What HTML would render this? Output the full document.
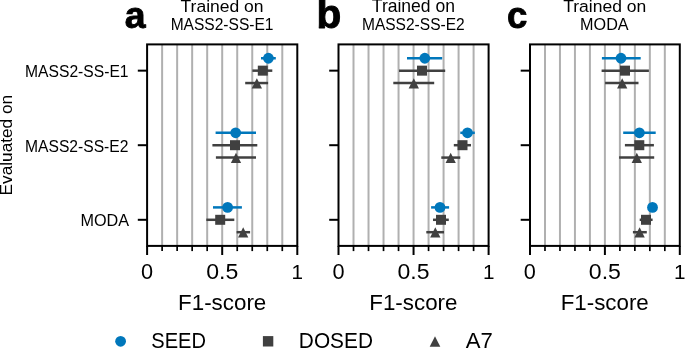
<!DOCTYPE html>
<html><head><meta charset="utf-8"><title>F1-score chart</title>
<style>
html,body{margin:0;padding:0;background:#fff;width:685px;height:349px;overflow:hidden}
svg{display:block;will-change:transform}
text{font-family:"Liberation Sans", sans-serif;fill:#000}
</style></head><body>
<svg width="685" height="349" viewBox="0 0 685 349">
<rect width="685" height="349" fill="#fff"/>
<line x1="162.12" y1="44.4" x2="162.12" y2="245.9" stroke="#b0b0b0" stroke-width="2"/>
<line x1="177.14" y1="44.4" x2="177.14" y2="245.9" stroke="#b0b0b0" stroke-width="2"/>
<line x1="192.16" y1="44.4" x2="192.16" y2="245.9" stroke="#b0b0b0" stroke-width="2"/>
<line x1="207.18" y1="44.4" x2="207.18" y2="245.9" stroke="#b0b0b0" stroke-width="2"/>
<line x1="222.2" y1="44.4" x2="222.2" y2="245.9" stroke="#b0b0b0" stroke-width="2"/>
<line x1="237.22" y1="44.4" x2="237.22" y2="245.9" stroke="#b0b0b0" stroke-width="2"/>
<line x1="252.24" y1="44.4" x2="252.24" y2="245.9" stroke="#b0b0b0" stroke-width="2"/>
<line x1="267.26" y1="44.4" x2="267.26" y2="245.9" stroke="#b0b0b0" stroke-width="2"/>
<line x1="282.28" y1="44.4" x2="282.28" y2="245.9" stroke="#b0b0b0" stroke-width="2"/>
<line x1="261" y1="58.25" x2="275.8" y2="58.25" stroke="#0077bb" stroke-width="2.5"/>
<circle cx="268.4" cy="58.25" r="5.4" fill="#0077bb"/>
<line x1="252.4" y1="70.65" x2="272.3" y2="70.65" stroke="#404040" stroke-width="2.5"/>
<rect x="257.8" y="65.65" width="10.0" height="10.0" fill="#404040"/>
<line x1="245.2" y1="83.05" x2="268.1" y2="83.05" stroke="#404040" stroke-width="2.5"/>
<path d="M256.85 78.2L262 88.4L251.7 88.4Z" fill="#404040"/>
<line x1="215.6" y1="132.8" x2="256" y2="132.8" stroke="#0077bb" stroke-width="2.5"/>
<circle cx="235.7" cy="132.8" r="5.4" fill="#0077bb"/>
<line x1="212.4" y1="145.2" x2="257.3" y2="145.2" stroke="#404040" stroke-width="2.5"/>
<rect x="230" y="140.2" width="10.0" height="10.0" fill="#404040"/>
<line x1="215.9" y1="157.6" x2="256" y2="157.6" stroke="#404040" stroke-width="2.5"/>
<path d="M236 152.75L241.15 162.95L230.85 162.95Z" fill="#404040"/>
<line x1="213" y1="207.4" x2="241.9" y2="207.4" stroke="#0077bb" stroke-width="2.5"/>
<circle cx="227.6" cy="207.4" r="5.4" fill="#0077bb"/>
<line x1="206.3" y1="219.8" x2="234.3" y2="219.8" stroke="#404040" stroke-width="2.5"/>
<rect x="215.2" y="214.8" width="10.0" height="10.0" fill="#404040"/>
<line x1="236.6" y1="232.2" x2="250.1" y2="232.2" stroke="#404040" stroke-width="2.5"/>
<path d="M243.2 227.35L248.35 237.55L238.05 237.55Z" fill="#404040"/>
<rect x="147.1" y="44.4" width="150.2" height="201.5" fill="none" stroke="#000" stroke-width="2"/>
<line x1="147.1" y1="245.9" x2="147.1" y2="255" stroke="#000" stroke-width="2"/>
<line x1="222.2" y1="245.9" x2="222.2" y2="255" stroke="#000" stroke-width="2"/>
<line x1="297.3" y1="245.9" x2="297.3" y2="255" stroke="#000" stroke-width="2"/>
<line x1="162.12" y1="245.9" x2="162.12" y2="251.1" stroke="#000" stroke-width="1.7"/>
<line x1="177.14" y1="245.9" x2="177.14" y2="251.1" stroke="#000" stroke-width="1.7"/>
<line x1="192.16" y1="245.9" x2="192.16" y2="251.1" stroke="#000" stroke-width="1.7"/>
<line x1="207.18" y1="245.9" x2="207.18" y2="251.1" stroke="#000" stroke-width="1.7"/>
<line x1="237.22" y1="245.9" x2="237.22" y2="251.1" stroke="#000" stroke-width="1.7"/>
<line x1="252.24" y1="245.9" x2="252.24" y2="251.1" stroke="#000" stroke-width="1.7"/>
<line x1="267.26" y1="245.9" x2="267.26" y2="251.1" stroke="#000" stroke-width="1.7"/>
<line x1="282.28" y1="245.9" x2="282.28" y2="251.1" stroke="#000" stroke-width="1.7"/>
<line x1="137.8" y1="70.65" x2="147.1" y2="70.65" stroke="#000" stroke-width="2"/>
<line x1="137.8" y1="145.2" x2="147.1" y2="145.2" stroke="#000" stroke-width="2"/>
<line x1="137.8" y1="219.8" x2="147.1" y2="219.8" stroke="#000" stroke-width="2"/>
<line x1="353.51" y1="44.4" x2="353.51" y2="245.9" stroke="#b0b0b0" stroke-width="2"/>
<line x1="368.52" y1="44.4" x2="368.52" y2="245.9" stroke="#b0b0b0" stroke-width="2"/>
<line x1="383.53" y1="44.4" x2="383.53" y2="245.9" stroke="#b0b0b0" stroke-width="2"/>
<line x1="398.54" y1="44.4" x2="398.54" y2="245.9" stroke="#b0b0b0" stroke-width="2"/>
<line x1="413.55" y1="44.4" x2="413.55" y2="245.9" stroke="#b0b0b0" stroke-width="2"/>
<line x1="428.56" y1="44.4" x2="428.56" y2="245.9" stroke="#b0b0b0" stroke-width="2"/>
<line x1="443.57" y1="44.4" x2="443.57" y2="245.9" stroke="#b0b0b0" stroke-width="2"/>
<line x1="458.58" y1="44.4" x2="458.58" y2="245.9" stroke="#b0b0b0" stroke-width="2"/>
<line x1="473.59" y1="44.4" x2="473.59" y2="245.9" stroke="#b0b0b0" stroke-width="2"/>
<line x1="407" y1="58.25" x2="442.2" y2="58.25" stroke="#0077bb" stroke-width="2.5"/>
<circle cx="424.8" cy="58.25" r="5.4" fill="#0077bb"/>
<line x1="399" y1="70.65" x2="445.2" y2="70.65" stroke="#404040" stroke-width="2.5"/>
<rect x="417" y="65.65" width="10.0" height="10.0" fill="#404040"/>
<line x1="393.3" y1="83.05" x2="434.2" y2="83.05" stroke="#404040" stroke-width="2.5"/>
<path d="M413.8 78.2L418.95 88.4L408.65 88.4Z" fill="#404040"/>
<line x1="460.3" y1="132.8" x2="474.8" y2="132.8" stroke="#0077bb" stroke-width="2.5"/>
<circle cx="467.5" cy="132.8" r="5.4" fill="#0077bb"/>
<line x1="453.8" y1="145.2" x2="471" y2="145.2" stroke="#404040" stroke-width="2.5"/>
<rect x="457.5" y="140.2" width="10.0" height="10.0" fill="#404040"/>
<line x1="441.3" y1="157.6" x2="460.3" y2="157.6" stroke="#404040" stroke-width="2.5"/>
<path d="M450.7 152.75L455.85 162.95L445.55 162.95Z" fill="#404040"/>
<line x1="431.1" y1="207.4" x2="449.1" y2="207.4" stroke="#0077bb" stroke-width="2.5"/>
<circle cx="440" cy="207.4" r="5.4" fill="#0077bb"/>
<line x1="433" y1="219.8" x2="448.8" y2="219.8" stroke="#404040" stroke-width="2.5"/>
<rect x="436" y="214.8" width="10.0" height="10.0" fill="#404040"/>
<line x1="426.3" y1="232.2" x2="444" y2="232.2" stroke="#404040" stroke-width="2.5"/>
<path d="M435.3 227.35L440.45 237.55L430.15 237.55Z" fill="#404040"/>
<rect x="338.5" y="44.4" width="150.1" height="201.5" fill="none" stroke="#000" stroke-width="2"/>
<line x1="338.5" y1="245.9" x2="338.5" y2="255" stroke="#000" stroke-width="2"/>
<line x1="413.55" y1="245.9" x2="413.55" y2="255" stroke="#000" stroke-width="2"/>
<line x1="488.6" y1="245.9" x2="488.6" y2="255" stroke="#000" stroke-width="2"/>
<line x1="353.51" y1="245.9" x2="353.51" y2="251.1" stroke="#000" stroke-width="1.7"/>
<line x1="368.52" y1="245.9" x2="368.52" y2="251.1" stroke="#000" stroke-width="1.7"/>
<line x1="383.53" y1="245.9" x2="383.53" y2="251.1" stroke="#000" stroke-width="1.7"/>
<line x1="398.54" y1="245.9" x2="398.54" y2="251.1" stroke="#000" stroke-width="1.7"/>
<line x1="428.56" y1="245.9" x2="428.56" y2="251.1" stroke="#000" stroke-width="1.7"/>
<line x1="443.57" y1="245.9" x2="443.57" y2="251.1" stroke="#000" stroke-width="1.7"/>
<line x1="458.58" y1="245.9" x2="458.58" y2="251.1" stroke="#000" stroke-width="1.7"/>
<line x1="473.59" y1="245.9" x2="473.59" y2="251.1" stroke="#000" stroke-width="1.7"/>
<line x1="329.2" y1="70.65" x2="338.5" y2="70.65" stroke="#000" stroke-width="2"/>
<line x1="329.2" y1="145.2" x2="338.5" y2="145.2" stroke="#000" stroke-width="2"/>
<line x1="329.2" y1="219.8" x2="338.5" y2="219.8" stroke="#000" stroke-width="2"/>
<line x1="544.98" y1="44.4" x2="544.98" y2="245.9" stroke="#b0b0b0" stroke-width="2"/>
<line x1="559.96" y1="44.4" x2="559.96" y2="245.9" stroke="#b0b0b0" stroke-width="2"/>
<line x1="574.94" y1="44.4" x2="574.94" y2="245.9" stroke="#b0b0b0" stroke-width="2"/>
<line x1="589.92" y1="44.4" x2="589.92" y2="245.9" stroke="#b0b0b0" stroke-width="2"/>
<line x1="604.9" y1="44.4" x2="604.9" y2="245.9" stroke="#b0b0b0" stroke-width="2"/>
<line x1="619.88" y1="44.4" x2="619.88" y2="245.9" stroke="#b0b0b0" stroke-width="2"/>
<line x1="634.86" y1="44.4" x2="634.86" y2="245.9" stroke="#b0b0b0" stroke-width="2"/>
<line x1="649.84" y1="44.4" x2="649.84" y2="245.9" stroke="#b0b0b0" stroke-width="2"/>
<line x1="664.82" y1="44.4" x2="664.82" y2="245.9" stroke="#b0b0b0" stroke-width="2"/>
<line x1="601.9" y1="58.25" x2="640.7" y2="58.25" stroke="#0077bb" stroke-width="2.5"/>
<circle cx="621" cy="58.25" r="5.4" fill="#0077bb"/>
<line x1="601.6" y1="70.65" x2="648.9" y2="70.65" stroke="#404040" stroke-width="2.5"/>
<rect x="620" y="65.65" width="10.0" height="10.0" fill="#404040"/>
<line x1="605.1" y1="83.05" x2="638.5" y2="83.05" stroke="#404040" stroke-width="2.5"/>
<path d="M622.2 78.2L627.35 88.4L617.05 88.4Z" fill="#404040"/>
<line x1="623.2" y1="132.8" x2="655.7" y2="132.8" stroke="#0077bb" stroke-width="2.5"/>
<circle cx="639.4" cy="132.8" r="5.4" fill="#0077bb"/>
<line x1="624.9" y1="145.2" x2="653.9" y2="145.2" stroke="#404040" stroke-width="2.5"/>
<rect x="634.3" y="140.2" width="10.0" height="10.0" fill="#404040"/>
<line x1="619.1" y1="157.6" x2="654.2" y2="157.6" stroke="#404040" stroke-width="2.5"/>
<path d="M636.8 152.75L641.95 162.95L631.65 162.95Z" fill="#404040"/>
<circle cx="652.5" cy="207.4" r="5.4" fill="#0077bb"/>
<line x1="639.7" y1="219.8" x2="652.6" y2="219.8" stroke="#404040" stroke-width="2.5"/>
<rect x="641" y="214.8" width="10.0" height="10.0" fill="#404040"/>
<line x1="632.9" y1="232.2" x2="646.8" y2="232.2" stroke="#404040" stroke-width="2.5"/>
<path d="M639.6 227.35L644.75 237.55L634.45 237.55Z" fill="#404040"/>
<rect x="530" y="44.4" width="149.8" height="201.5" fill="none" stroke="#000" stroke-width="2"/>
<line x1="530" y1="245.9" x2="530" y2="255" stroke="#000" stroke-width="2"/>
<line x1="604.9" y1="245.9" x2="604.9" y2="255" stroke="#000" stroke-width="2"/>
<line x1="679.8" y1="245.9" x2="679.8" y2="255" stroke="#000" stroke-width="2"/>
<line x1="544.98" y1="245.9" x2="544.98" y2="251.1" stroke="#000" stroke-width="1.7"/>
<line x1="559.96" y1="245.9" x2="559.96" y2="251.1" stroke="#000" stroke-width="1.7"/>
<line x1="574.94" y1="245.9" x2="574.94" y2="251.1" stroke="#000" stroke-width="1.7"/>
<line x1="589.92" y1="245.9" x2="589.92" y2="251.1" stroke="#000" stroke-width="1.7"/>
<line x1="619.88" y1="245.9" x2="619.88" y2="251.1" stroke="#000" stroke-width="1.7"/>
<line x1="634.86" y1="245.9" x2="634.86" y2="251.1" stroke="#000" stroke-width="1.7"/>
<line x1="649.84" y1="245.9" x2="649.84" y2="251.1" stroke="#000" stroke-width="1.7"/>
<line x1="664.82" y1="245.9" x2="664.82" y2="251.1" stroke="#000" stroke-width="1.7"/>
<line x1="520.7" y1="70.65" x2="530" y2="70.65" stroke="#000" stroke-width="2"/>
<line x1="520.7" y1="145.2" x2="530" y2="145.2" stroke="#000" stroke-width="2"/>
<line x1="520.7" y1="219.8" x2="530" y2="219.8" stroke="#000" stroke-width="2"/>
<circle cx="120.6" cy="341.3" r="5.4" fill="#0077bb"/>
<rect x="262.9" y="336.1" width="10.4" height="10.4" fill="#404040"/>
<path d="M435 336.2L440.3 346.7L429.7 346.7Z" fill="#404040"/>
<text transform="translate(140.916 278.78) scale(1.087 1.099)" font-size="20">0</text>
<text transform="translate(206.161 278.534) scale(1.154 1.081)" font-size="20">0.5</text>
<text transform="translate(291.624 278.65) scale(1.035 1.051)" font-size="20">1</text>
<text transform="translate(178.025 309.722) scale(1.119 1.14)" font-size="20">F1-score</text>
<text transform="translate(180.514 11.733) scale(1.169 1.114)" font-size="15">Trained on</text>
<text transform="translate(170.638 29.679) scale(1.037 1.142)" font-size="15">MASS2-SS-E1</text>
<text transform="translate(124.737 27.564) scale(0.985 0.959)" font-size="38" font-weight="bold" stroke="#000" stroke-width="0.9" stroke-linejoin="round">a</text>
<text transform="translate(332.478 278.534) scale(1.087 1.081)" font-size="20">0</text>
<text transform="translate(397.455 278.534) scale(1.15 1.081)" font-size="20">0.5</text>
<text transform="translate(482.934 278.65) scale(1.034 1.051)" font-size="20">1</text>
<text transform="translate(369.307 309.722) scale(1.117 1.14)" font-size="20">F1-score</text>
<text transform="translate(371.819 12.473) scale(1.17 1.182)" font-size="15">Trained on</text>
<text transform="translate(361.947 29.679) scale(1.036 1.142)" font-size="15">MASS2-SS-E2</text>
<text transform="translate(316.405 27.729) scale(1.068 1.061)" font-size="38" font-weight="bold" stroke="#000" stroke-width="0.9" stroke-linejoin="round">b</text>
<text transform="translate(523.83 278.78) scale(1.085 1.099)" font-size="20">0</text>
<text transform="translate(588.859 278.534) scale(1.154 1.081)" font-size="20">0.5</text>
<text transform="translate(673.953 278.65) scale(1.034 1.051)" font-size="20">1</text>
<text transform="translate(560.679 309.722) scale(1.117 1.14)" font-size="20">F1-score</text>
<text transform="translate(563.184 11.733) scale(1.168 1.114)" font-size="15">Trained on</text>
<text transform="translate(580.115 29.679) scale(1.079 1.142)" font-size="15">MODA</text>
<text transform="translate(506.968 27.552) scale(0.962 0.995)" font-size="38" font-weight="bold" stroke="#000" stroke-width="0.9" stroke-linejoin="round">c</text>
<text transform="translate(25.025 76.527) scale(1.044 1.156)" font-size="15">MASS2-SS-E1</text>
<text transform="translate(25.023 151.627) scale(1.043 1.156)" font-size="15">MASS2-SS-E2</text>
<text transform="translate(80.483 225.528) scale(1.082 1.146)" font-size="15">MODA</text>
<text transform="translate(11.536 195.437) rotate(-90) scale(1.149 1.095)" font-size="15">Evaluated on</text>
<text transform="translate(151.242 347.634) scale(1.005 1.081)" font-size="20">SEED</text>
<text transform="translate(298.834 347.635) scale(1.042 1.074)" font-size="20">DOSED</text>
<text transform="translate(465.828 347.65) scale(1.107 1.091)" font-size="20">A7</text>
</svg>
</body></html>
